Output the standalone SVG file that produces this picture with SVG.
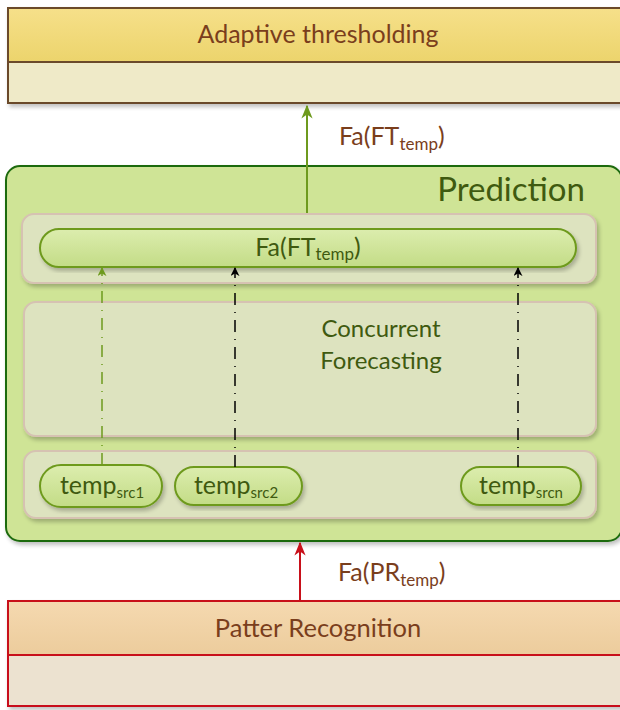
<svg xmlns="http://www.w3.org/2000/svg" width="620" height="710" viewBox="0 0 620 710">
<defs>
<linearGradient id="gYel" x1="0" y1="0" x2="0" y2="1"><stop offset="0" stop-color="#f6e08a"/><stop offset="1" stop-color="#ecd46c"/></linearGradient>
<linearGradient id="gPeach" x1="0" y1="0" x2="0" y2="1"><stop offset="0" stop-color="#f5d9b0"/><stop offset="1" stop-color="#eccc9c"/></linearGradient>
<linearGradient id="gPill" x1="0" y1="0" x2="0" y2="1"><stop offset="0" stop-color="#dcedae"/><stop offset="1" stop-color="#c3dc86"/></linearGradient>
<filter id="sh" x="-5%" y="-5%" width="110%" height="120%"><feGaussianBlur in="SourceAlpha" stdDeviation="2"/><feOffset dx="2" dy="3"/><feComponentTransfer><feFuncA type="linear" slope="0.25"/></feComponentTransfer><feMerge><feMergeNode/><feMergeNode in="SourceGraphic"/></feMerge></filter>
<marker id="aG" viewBox="0 0 10 10" refX="9" refY="5" markerWidth="9" markerHeight="9" orient="auto" markerUnits="userSpaceOnUse"><path d="M0,0 L10,5 L0,10 L3,5 Z" fill="#6e9a1e"/></marker>
<marker id="aK" viewBox="0 0 10 10" refX="9" refY="5" markerWidth="9" markerHeight="9" orient="auto" markerUnits="userSpaceOnUse"><path d="M0,0 L10,5 L0,10 L3,5 Z" fill="#000"/></marker>
<marker id="aR" viewBox="0 0 10 10" refX="9" refY="5" markerWidth="14" markerHeight="14" orient="auto" markerUnits="userSpaceOnUse"><path d="M0,1 L10,5 L0,9 L3,5 Z" fill="#c8101a"/></marker>
<marker id="aG2" viewBox="0 0 10 10" refX="9" refY="5" markerWidth="14" markerHeight="14" orient="auto" markerUnits="userSpaceOnUse"><path d="M0,1 L10,5 L0,9 L3,5 Z" fill="#6e9a1e"/></marker>
</defs>
<style>
text{font-family:Lato,"Open Sans","Liberation Sans",sans-serif}
.brown{fill:#7a3e1c}
.dg{fill:#3f5a10}
.pill{fill:url(#gPill);stroke:#6e9a1e;stroke-width:2}
.panel{fill:#dde3bf;stroke:#d6c2b2;stroke-width:2}
</style>
<rect x="0" y="0" width="620" height="710" fill="#fff"/>

<g id="adaptive">
<rect x="8" y="8" width="620" height="95" fill="#efeac8" stroke="#6b4a2a" stroke-width="2" filter="url(#sh)"/>
<rect x="8" y="8" width="620" height="54" fill="url(#gYel)" stroke="#6b4a2a" stroke-width="2"/>
<text x="318" y="43" font-size="25" text-anchor="middle" class="brown">Adaptive thresholding</text>
</g>

<g id="prediction">
<rect x="6" y="166" width="616" height="375" rx="14" fill="#cfe496" stroke="#1f6b10" stroke-width="2" filter="url(#sh)"/>
<text x="585" y="201" font-size="33" text-anchor="end" class="dg">Prediction</text>
</g>

<g id="output-panel">
<rect x="22" y="214" width="574" height="69" rx="12" class="panel" filter="url(#sh)"/>
</g>
<g id="fa-ft">
<rect x="40" y="229" width="536" height="38" rx="19" class="pill" filter="url(#sh)"/>
<text x="308" y="256" font-size="25" text-anchor="middle" class="dg">Fa(FT<tspan font-size="17" dy="4">temp</tspan><tspan dy="-4">)</tspan></text>
</g>

<g id="concurrent">
<rect x="24" y="302" width="572" height="134" rx="12" class="panel" filter="url(#sh)"/>
<text x="381" y="337" font-size="24" text-anchor="middle" class="dg">Concurrent</text>
<text x="381" y="369" font-size="24" text-anchor="middle" class="dg">Forecasting</text>
</g>

<g id="sources-panel">
<rect x="24" y="451" width="572" height="67" rx="12" class="panel" filter="url(#sh)"/>
</g>
<g id="src1">
<rect x="40" y="465" width="122" height="42" rx="21" class="pill" filter="url(#sh)"/>
<text x="102" y="494" font-size="25" text-anchor="middle" class="dg">temp<tspan font-size="15" dy="4">src1</tspan></text>
</g>
<g id="src2">
<rect x="175" y="467" width="127" height="38" rx="19" class="pill" filter="url(#sh)"/>
<text x="236" y="494" font-size="25" text-anchor="middle" class="dg">temp<tspan font-size="15" dy="4">src2</tspan></text>
</g>
<g id="srcn">
<rect x="461" y="467" width="120" height="38" rx="19" class="pill" filter="url(#sh)"/>
<text x="521" y="494" font-size="25" text-anchor="middle" class="dg">temp<tspan font-size="15" dy="4">srcn</tspan></text>
</g>

<g id="pattern">
<rect x="8" y="601" width="620" height="105" fill="#ece2d0" stroke="#c8101a" stroke-width="2" filter="url(#sh)"/>
<rect x="8" y="601" width="620" height="54" fill="url(#gPeach)" stroke="#c8101a" stroke-width="2"/>
<text x="318" y="637" font-size="25.5" text-anchor="middle" class="brown">Patter Recognition</text>
</g>

<g id="connectors" fill="none">
<line x1="307" y1="213" x2="307" y2="106" stroke="#6e9a1e" stroke-width="2" marker-end="url(#aG2)"/>
<line x1="102" y1="465" x2="102" y2="268" stroke="#6e9a1e" stroke-width="1.5" stroke-dasharray="12,7,1,7" marker-end="url(#aG)"/>
<line x1="235" y1="467" x2="235" y2="268" stroke="#000" stroke-width="1.5" stroke-dasharray="12,7,1,7" marker-end="url(#aK)"/>
<line x1="518" y1="467" x2="518" y2="268" stroke="#000" stroke-width="1.5" stroke-dasharray="12,7,1,7" marker-end="url(#aK)"/>
<line x1="300" y1="601" x2="300" y2="543" stroke="#c8101a" stroke-width="2" marker-end="url(#aR)"/>
</g>

<g id="labels">
<text x="339" y="145" font-size="25" class="brown">Fa(FT<tspan font-size="17" dy="5">temp</tspan><tspan dy="-5">)</tspan></text>
<text x="338" y="581" font-size="25" class="brown">Fa(PR<tspan font-size="17" dy="5">temp</tspan><tspan dy="-5">)</tspan></text>
</g>
</svg>
